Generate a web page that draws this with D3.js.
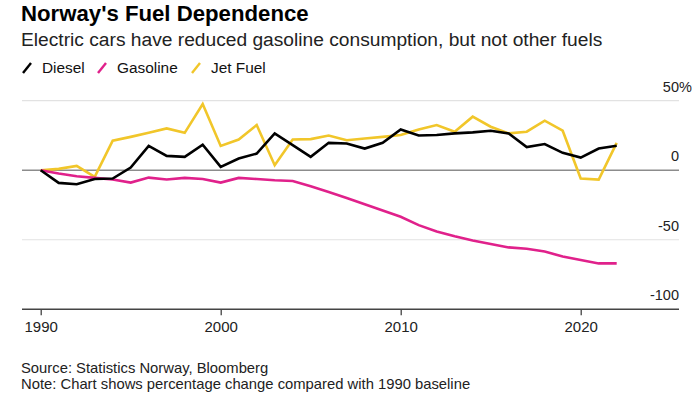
<!DOCTYPE html>
<html lang="en">
<head>
    <meta charset="UTF-8">
    <title>Norway's Fuel Dependence</title>
    <script src="https://d3js.org/d3.v7.min.js"></script>
    <style>
        body {
            margin: 0;
            background: #ffffff;
            font-family: 'Liberation Sans', Arial, sans-serif;
        }
        svg { display: block; }
        .series { fill: none; stroke-width: 2.6; stroke-linejoin: miter; }
    </style>
</head>
<body>
    <div id="chart"></div>

    <script>
        // Data (% change vs 1990)
        const years = [1990, 1991, 1992, 1993, 1994, 1995, 1996, 1997, 1998, 1999,
                       2000, 2001, 2002, 2003, 2004, 2005, 2006, 2007, 2008, 2009,
                       2010, 2011, 2012, 2013, 2014, 2015, 2016, 2017, 2018, 2019,
                       2020, 2021, 2022];
        const diesel = [0, -9.1, -10.1, -6.3, -6.0, 1.9, 17.5, 10.3, 9.6, 18.3,
                        2.4, 8.4, 12.0, 26.5, 18.0, 9.6, 19.7, 19.2, 15.6, 19.7,
                        29.3, 25.0, 25.3, 26.5, 27.2, 28.4, 26.5, 16.6, 18.8, 12.5,
                        9.1, 15.6, 17.6];
        const gasoline = [0, -2.4, -4.3, -5.5, -6.7, -8.9, -5.3, -6.7, -5.5, -6.3,
                          -8.9, -5.5, -6.3, -7.2, -7.7, -11.5, -15.6, -20, -24.5, -29,
                          -33.5, -39.5, -44, -47.5, -50.5, -53, -55.5, -56.5, -58.5, -62,
                          -64.5, -67, -67];
        const jetFuel = [0, 1, 3.1, -4.8, 21.2, 24.0, 26.9, 30.1, 26.9, 47.6,
                         17.5, 22.1, 32.5, 3.6, 22.1, 22.4, 25.0, 21.6, 22.8, 24.0,
                         25.3, 29.3, 32.5, 27.7, 38.5, 31.3, 26.5, 27.7, 35.6, 28.4,
                         -6.0, -6.7, 19.7];
        const seriesNames = ["Diesel", "Gasoline", "Jet Fuel"];
        const yTicks = [50, 0, -50, -100];
        const xTicks = [1990, 2000, 2010, 2020];

        const colors = { "Diesel": "#000000", "Gasoline": "#e0218b", "Jet Fuel": "#f1c62a" };

        const width = 700, height = 394;
        const left = 22, right = 679;

        const svg = d3.select("#chart").append("svg")
            .attr("width", width)
            .attr("height", height);

        svg.append("rect").attr("width", width).attr("height", height).attr("fill", "#fff");

        // Scales
        const x = d3.scaleLinear().domain([1989, 2025.4]).range([22.7, 677.9]);
        const y = d3.scaleLinear().domain([-100, 50]).range([309.3, 100.7]);

        // Title block
        svg.append("text")
            .attr("x", 21).attr("y", 21)
            .attr("font-size", 22.2).attr("font-weight", "bold").attr("fill", "#000")
            .text("Norway's Fuel Dependence");
        svg.append("text")
            .attr("x", 21).attr("y", 46)
            .attr("font-size", 19.2).attr("fill", "#222")
            .text("Electric cars have reduced gasoline consumption, but not other fuels");

        // Legend
        const legendX = [23, 98, 192];
        const legend = svg.append("g");
        seriesNames.forEach((name, i) => {
            const g = legend.append("g").attr("transform", `translate(${legendX[i]},0)`);
            g.append("line")
                .attr("x1", 0).attr("y1", 73).attr("x2", 8).attr("y2", 63)
                .attr("stroke", colors[name]).attr("stroke-width", 2.4);
            g.append("text")
                .attr("x", 19).attr("y", 73)
                .attr("font-size", 15.4).attr("fill", "#111")
                .text(name);
        });

        // Horizontal gridlines
        svg.append("g").selectAll("line")
            .data(yTicks.filter(d => d !== -100))
            .join("line")
            .attr("x1", left).attr("x2", right)
            .attr("y1", d => y(d)).attr("y2", d => y(d))
            .attr("stroke", d => d === 0 ? "#8c8c8c" : "#e2e2e2")
            .attr("stroke-width", d => d === 0 ? 1.5 : 1.2);

        // Y labels sit above their gridlines, right aligned
        svg.append("g").selectAll("text")
            .data(yTicks)
            .join("text")
            .attr("x", right).attr("y", d => y(d) - 9)
            .attr("text-anchor", "end")
            .attr("font-size", 14.5).attr("fill", "#222")
            .text(d => d);
        svg.append("text")
            .attr("x", right).attr("y", y(50) - 9)
            .attr("font-size", 14.5).attr("fill", "#222")
            .text("%");

        // Series lines
        const line = d3.line()
            .x((d, i) => x(years[i]))
            .y(d => y(d));

        const seriesData = { "Diesel": diesel, "Gasoline": gasoline, "Jet Fuel": jetFuel };
        ["Jet Fuel", "Gasoline", "Diesel"].forEach(name => {
            svg.append("path")
                .attr("class", "series")
                .attr("d", line(seriesData[name]))
                .attr("stroke", colors[name]);
        });

        // X axis
        const xAxis = svg.append("g")
            .attr("transform", `translate(0,${y(-100)})`)
            .call(d3.axisBottom(x).tickValues(xTicks).tickFormat(d3.format("d")).tickSize(6).tickPadding(6));
        xAxis.select(".domain").remove();
        xAxis.selectAll(".tick line").attr("stroke", "#333").attr("stroke-width", 1.2);
        xAxis.selectAll(".tick text")
            .attr("font-family", "'Liberation Sans', Arial, sans-serif")
            .attr("font-size", 15).attr("fill", "#222");
        svg.append("line")
            .attr("x1", left).attr("x2", right)
            .attr("y1", y(-100)).attr("y2", y(-100))
            .attr("stroke", "#444").attr("stroke-width", 1.5);

        // Footer
        svg.append("text")
            .attr("x", 21).attr("y", 373)
            .attr("font-size", 14.8).attr("fill", "#222")
            .text("Source: Statistics Norway, Bloomberg");
        svg.append("text")
            .attr("x", 21).attr("y", 389)
            .attr("font-size", 14.8).attr("fill", "#222")
            .text("Note: Chart shows percentage change compared with 1990 baseline");
    </script>
</body>
</html>
